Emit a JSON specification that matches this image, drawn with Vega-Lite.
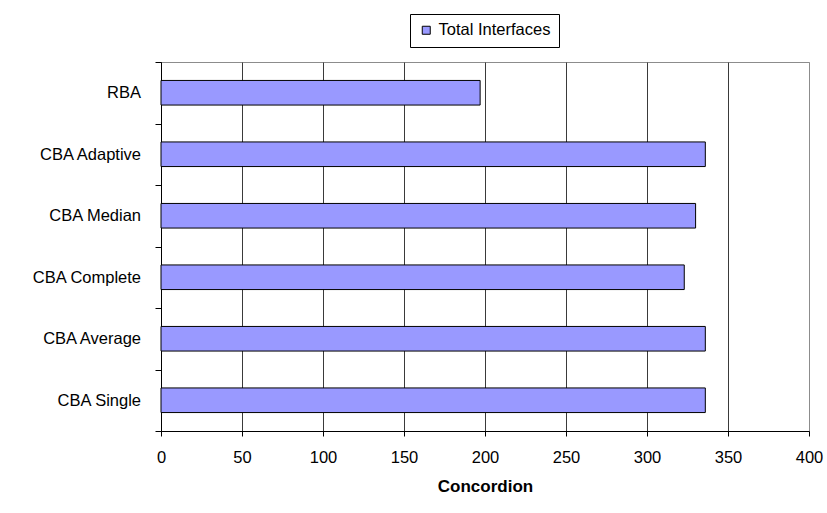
{
  "$schema": "https://vega.github.io/schema/vega-lite/v6.json",
  "width": 648,
  "height": 369,
  "autosize": {"type": "none"},
  "padding": {"left": 161, "top": 62, "right": 18, "bottom": 82},
  "background": "#ffffff",
  "config": {
    "font": "Liberation Sans",
    "view": {"stroke": "#8c8c8c", "strokeWidth": 1}
  },
  "data": {
    "values": [
      {"method": "RBA", "concordion": 197},
      {"method": "CBA Adaptive", "concordion": 336},
      {"method": "CBA Median", "concordion": 330},
      {"method": "CBA Complete", "concordion": 323},
      {"method": "CBA Average", "concordion": 336},
      {"method": "CBA Single", "concordion": 336}
    ]
  },
  "mark": {"type": "bar", "stroke": "#000000", "strokeWidth": 1, "height": {"band": 0.4}},
  "encoding": {
    "y": {
      "field": "method",
      "type": "nominal",
      "sort": null,
      "scale": {"paddingInner": 0, "paddingOuter": 0},
      "axis": {
        "title": null,
        "grid": false,
        "tickBand": "extent",
        "tickSize": 6,
        "tickColor": "#000000",
        "domainColor": "#000000",
        "labelFont": "Liberation Sans",
        "labelFontSize": 16.5,
        "labelColor": "#000000",
        "labelPadding": 14.5
      }
    },
    "x": {
      "field": "concordion",
      "type": "quantitative",
      "scale": {"domain": [0, 400], "nice": false},
      "axis": {
        "title": "Concordion",
        "values": [0, 50, 100, 150, 200, 250, 300, 350, 400],
        "grid": true,
        "gridColor": {"condition": {"test": "datum.value === 400", "value": "#8c8c8c"}, "value": "#3a3a3a"},
        "gridWidth": 1,
        "tickSize": 5,
        "tickColor": "#000000",
        "domainColor": "#000000",
        "labelFont": "Liberation Sans",
        "labelFontSize": 16.5,
        "labelColor": "#000000",
        "labelPadding": 13,
        "labelFlush": false,
        "titleFont": "Liberation Sans",
        "titleFontSize": 17,
        "titleFontWeight": "bold",
        "titleColor": "#000000",
        "titlePadding": 13
      }
    },
    "color": {
      "datum": "Total Interfaces",
      "scale": {"range": ["#9999ff"]},
      "legend": {
        "title": null,
        "orient": "none",
        "legendX": 249,
        "legendY": -48,
        "strokeColor": "#000000",
        "fillColor": "#ffffff",
        "padding": 8,
        "symbolType": "square",
        "symbolSize": 64,
        "symbolStrokeColor": "#000000",
        "symbolStrokeWidth": 1,
        "labelFont": "Liberation Sans",
        "labelFontSize": 16.5,
        "labelColor": "#000000",
        "labelOffset": 4
      }
    }
  }
}
